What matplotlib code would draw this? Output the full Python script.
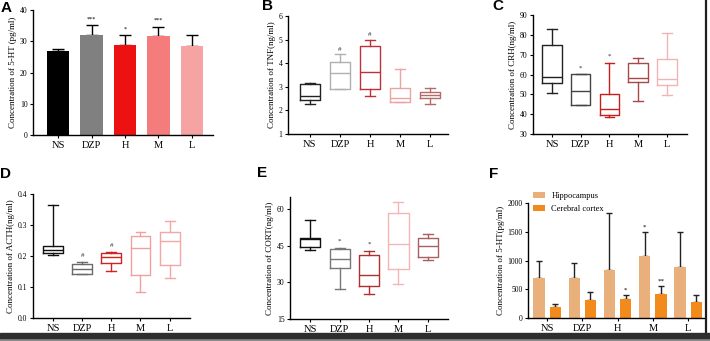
import matplotlib
matplotlib.use('Agg')
import matplotlib.pyplot as plt
import numpy as np
from matplotlib.patches import Rectangle
from matplotlib.lines import Line2D

plt.rcParams['font.family'] = ['Liberation Serif', 'DejaVu Serif']

groups = ['NS', 'DZP', 'H', 'M', 'L']

# A: 5-HT bars
a_mean = [27.0, 32.0, 28.8, 31.7, 28.5]
a_err = [0.6, 3.2, 3.1, 3.0, 3.5]
a_sig = ['', '***', '*', '***', '']

# B: TNF boxes
b_lo = [2.28, 2.9, 2.59, 2.35, 2.28]
b_q1 = [2.42, 2.9, 2.91, 2.35, 2.53]
b_med = [2.6, 3.57, 3.64, 2.54, 2.66]
b_q3 = [3.1, 4.06, 4.74, 2.97, 2.8]
b_hi = [3.15, 4.37, 5.0, 3.75, 2.97]
b_sig = ['', '#', '#', '', '']

# C: CRH boxes
c_lo = [50.5, 44.6, 38.7, 46.8, 49.7]
c_q1 = [55.9, 44.6, 39.6, 56.4, 54.7]
c_med = [58.6, 51.7, 42.4, 58.4, 57.6]
c_q3 = [74.7, 60.1, 50.2, 66.0, 68.0]
c_hi = [82.8, 60.1, 66.0, 68.2, 80.8]
c_sig = ['', '*', '*', '', '']

# D: ACTH boxes
d_lo = [0.202, 0.142, 0.153, 0.083, 0.129]
d_q1 = [0.209, 0.142, 0.179, 0.138, 0.171]
d_med = [0.22, 0.158, 0.196, 0.227, 0.247]
d_q3 = [0.233, 0.175, 0.209, 0.266, 0.279]
d_hi = [0.365, 0.182, 0.214, 0.279, 0.314]
d_sig = ['', '#', '#', '', '']

# E: CORT boxes
e_lo = [43.2, 27.3, 25.4, 29.5, 39.0]
e_q1 = [44.5, 35.9, 28.4, 35.5, 40.6]
e_med = [47.8, 39.7, 33.1, 45.7, 45.0]
e_q3 = [48.3, 43.8, 41.3, 58.4, 48.1]
e_hi = [55.4, 44.2, 43.0, 62.9, 49.8]
e_sig = ['', '*', '*', '', '']

# F: 5-HT in two regions
f_hip = [696, 696, 829, 1084, 887]
f_hip_err = [290, 261, 990, 406, 609]
f_cor = [186, 307, 330, 417, 278]
f_cor_err = [63, 139, 64, 134, 116]
f_hip_sig = ['', '', '', '*', '']
f_cor_sig = ['', '', '*', '**', '']

W, H = 710, 341
fig = plt.figure(figsize=(W / 100, H / 100), dpi=100)


def add_ax(left, right, top, bottom):
    return fig.add_axes([left / W, 1 - bottom / H, (right - left) / W, (bottom - top) / H])


def style(ax, ylabel, yticks, yticklabels, ylim, xlim):
    for s in ['top', 'right']:
        ax.spines[s].set_visible(False)
    for s in ['left', 'bottom']:
        ax.spines[s].set_linewidth(1.0)
    ax.set_ylim(*ylim)
    ax.set_xlim(*xlim)
    ax.set_yticks(yticks)
    ax.set_yticklabels(yticklabels, fontsize=5.5)
    ax.set_xticks(range(len(groups)))
    ax.set_xticklabels(groups, fontsize=7.5)
    ax.tick_params(length=2.5, width=0.8, pad=1.5)
    ax.set_ylabel(ylabel, fontsize=6.5, labelpad=2)


def boxes(ax, lo, q1, med, q3, hi, colors, sig, sig_off):
    stats = []
    for i in range(len(groups)):
        stats.append(dict(whislo=lo[i], q1=q1[i], med=med[i], q3=q3[i], whishi=hi[i], fliers=[]))
    art = ax.bxp(stats, positions=range(len(groups)), widths=0.68, capwidths=0.34,
                 showfliers=False, manage_ticks=False)
    for i, c in enumerate(colors):
        art['boxes'][i].set(color=c, linewidth=1.0)
        art['medians'][i].set(color=c, linewidth=1.0)
        for k in (2 * i, 2 * i + 1):
            art['whiskers'][k].set(color=c, linewidth=1.0)
            art['caps'][k].set(color=c, linewidth=1.0)
        if sig[i]:
            ax.text(i, hi[i] + sig_off, sig[i], ha='center', va='bottom', fontsize=5, color='#333333')


# ---- A
ax = add_ax(33, 213, 10, 135)
a_colors = ['#000000', '#808080', '#ee1111', '#f47c7c', '#f5a3a3']
x = np.arange(len(groups))
ax.bar(x, a_mean, width=0.68, color=a_colors, zorder=2)
ax.errorbar(x, a_mean, yerr=[np.zeros(5), a_err], fmt='none', ecolor='black',
            elinewidth=1.0, capsize=4, capthick=1.0, zorder=1)
for i, s in enumerate(a_sig):
    if s:
        ax.text(i, a_mean[i] + a_err[i] + 1.2, s, ha='center', va='bottom', fontsize=4.5)
style(ax, 'Concentration of 5-HT (pg/ml)', [0, 10, 20, 30, 40], ['0', '10', '20', '30', '40'],
      (0, 40), (-0.75, 4.63))

# ---- B
ax = add_ax(288, 448, 16, 134)
boxes(ax, b_lo, b_q1, b_med, b_q3, b_hi,
      ['#222222', '#b0b0b0', '#c0303a', '#eaa4a4', '#b36a6a'], b_sig, 0.1)
style(ax, 'Concentration of TNF(ng/ml)', [1, 2, 3, 4, 5, 6], ['1', '2', '3', '4', '5', '6'],
      (1, 6), (-0.73, 4.6))

# ---- C
ax = add_ax(533, 687, 15, 134)
boxes(ax, c_lo, c_q1, c_med, c_q3, c_hi,
      ['#222222', '#444444', '#c81e1e', '#a84848', '#f0b4b4'], c_sig, 2.0)
style(ax, 'Concentration of CRH(ng/ml)', [30, 40, 50, 60, 70, 80, 90],
      ['30', '40', '50', '60', '70', '80', '90'], (30, 90), (-0.66, 4.7))

# ---- D
ax = add_ax(33, 190, 194, 318)
boxes(ax, d_lo, d_q1, d_med, d_q3, d_hi,
      ['#111111', '#6a6a6a', '#d02424', '#f0a0a0', '#f2a8a8'], d_sig, 0.012)
style(ax, 'Concentration of ACTH(ng/ml)', [0.0, 0.1, 0.2, 0.3, 0.4],
      ['0.0', '0.1', '0.2', '0.3', '0.4'], (0, 0.4), (-0.69, 4.7))

# ---- E
ax = add_ax(290, 448, 197, 319)
boxes(ax, e_lo, e_q1, e_med, e_q3, e_hi,
      ['#111111', '#777777', '#b03030', '#f5b5b5', '#a86060'], e_sig, 1.5)
style(ax, 'Concentration of CORT(ng/ml)', [15, 30, 45, 60], ['15', '30', '45', '60'],
      (15, 65), (-0.68, 4.68))

# ---- F
ax = add_ax(528, 704, 203, 318)
off = 0.23
bw = 0.32
ax.bar(x - off, f_hip, width=bw, color='#eab07c', label='Hippocampus', zorder=2)
ax.bar(x + off, f_cor, width=bw, color='#f28a1c', label='Cerebral cortex', zorder=2)
ax.errorbar(x - off, f_hip, yerr=[np.zeros(5), f_hip_err], fmt='none', ecolor='#222222',
            elinewidth=1.0, capsize=2.5, capthick=1.0, zorder=1)
ax.errorbar(x + off, f_cor, yerr=[np.zeros(5), f_cor_err], fmt='none', ecolor='#222222',
            elinewidth=1.0, capsize=2.5, capthick=1.0, zorder=1)
for i in range(5):
    if f_hip_sig[i]:
        ax.text(i - off, f_hip[i] + f_hip_err[i] + 40, f_hip_sig[i], ha='center', va='bottom', fontsize=5)
    if f_cor_sig[i]:
        ax.text(i + off, f_cor[i] + f_cor_err[i] + 40, f_cor_sig[i], ha='center', va='bottom', fontsize=5)
style(ax, 'Concentration of 5-HT(pg/ml)', [0, 500, 1000, 1500, 2000],
      ['0', '500', '1000', '1500', '2000'], (0, 2000), (-0.54, 4.45))
ax.legend(loc='upper left', bbox_to_anchor=(0.0, 1.14), frameon=False, fontsize=6,
          handlelength=1.4, handleheight=0.7, labelspacing=0.6, borderaxespad=0.2)

# panel letters
for lab, px, py in [('A', 1, 12), ('B', 262, 10), ('C', 492, 10),
                    ('D', 0, 178), ('E', 257, 177), ('F', 489, 178)]:
    fig.text(px / W, 1 - py / H, lab, fontsize=11, fontweight='bold',
             family='Liberation Sans', ha='left', va='baseline')

# screen border artefacts
fig.patches.append(Rectangle((0, 0), 1, 3 / H, transform=fig.transFigure, color='#8a8a8a', zorder=10))
fig.patches.append(Rectangle((0, 3 / H), 1, 5 / H, transform=fig.transFigure, color='#2e2e2e', zorder=10))
fig.lines.append(Line2D([706 / W, 706 / W], [0, 1], transform=fig.transFigure, color='#1e1e1e', lw=1.6))

fig.savefig('out.png', dpi=100)
